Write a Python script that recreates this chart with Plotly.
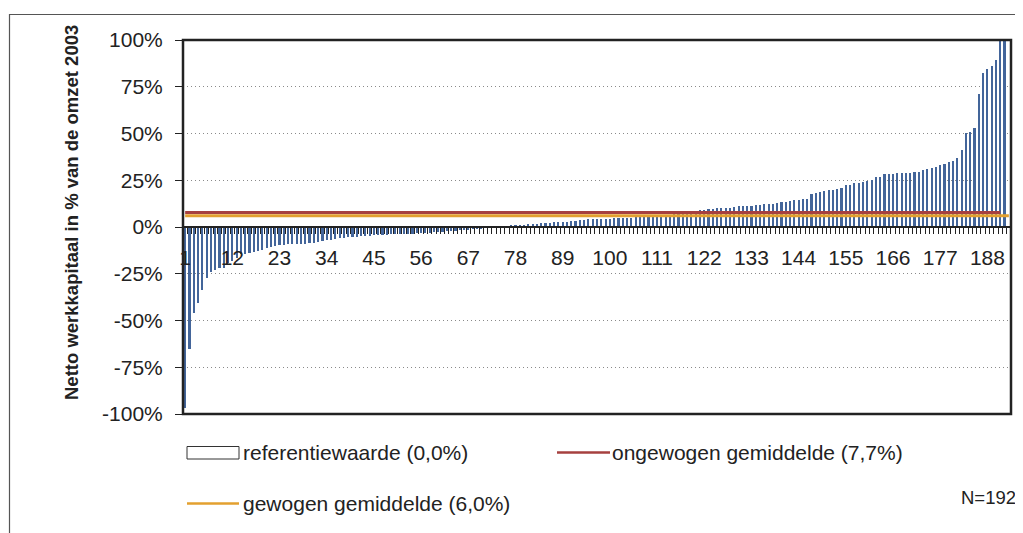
import plotly.graph_objects as go

# companies sorted by net working capital (% of turnover 2003)
companies = list(range(1, 193))
werkkapitaal = [
    -97.0, -65.1, -45.8, -40.5, -33.7, -27.1, -23.9, -22.8, -21.9, -21.7,
    -19.1, -18.2, -16.8, -14.6, -14.6, -13.7, -13.2, -12.8, -12.3, -11.1,
    -10.7, -10.3, -9.8, -9.6, -9.3, -9.3, -8.9, -8.9, -8.9, -8.7,
    -8.5, -8.0, -7.5, -7.1, -6.8, -6.4, -6.0, -5.7, -5.5, -5.3,
    -5.1, -4.9, -4.8, -4.6, -4.5, -4.4, -4.3, -4.1, -4.0, -3.9,
    -3.8, -3.7, -3.6, -3.5, -3.3, -3.2, -3.1, -3.0, -2.9, -2.7,
    -2.6, -2.4, -2.2, -2.0, -1.8, -1.6, -1.5, -1.3, -0.9, -0.7,
    -0.5, -0.4, -0.2, -0.1, 0.5, 0.5, 1.1, 1.1, 1.1, 1.1,
    1.6, 1.6, 1.6, 2.1, 2.1, 2.1, 2.7, 2.7, 2.7, 2.7,
    3.2, 3.2, 3.7, 3.7, 4.3, 4.3, 4.3, 4.3, 4.3, 4.3,
    4.8, 4.8, 4.8, 4.8, 4.8, 5.3, 5.3, 5.3, 5.3, 5.3,
    5.3, 5.5, 5.8, 6.5, 6.8, 7.0, 7.5, 8.6, 8.6, 8.6,
    9.1, 9.1, 9.6, 9.6, 10.2, 10.2, 10.2, 10.2, 10.7, 11.2,
    11.2, 11.2, 11.2, 11.8, 11.8, 12.3, 12.3, 12.3, 12.8, 13.4,
    13.4, 13.9, 14.4, 14.4, 15.0, 15.0, 17.6, 18.2, 18.7, 19.3,
    19.8, 19.8, 20.3, 20.9, 22.5, 22.5, 23.5, 23.5, 24.1, 24.6,
    25.1, 26.7, 26.7, 28.3, 28.3, 28.3, 28.9, 28.9, 28.9, 28.9,
    29.4, 29.4, 30.5, 31.0, 31.6, 32.1, 33.2, 33.7, 34.8, 35.3,
    36.9, 41.2, 50.3, 50.8, 52.9, 71.1, 82.4, 84.5, 86.1, 89.3,
    100.0, 104.3,
]

ongewogen = 7.7
gewogen = 6.0
ongewogen_x = list(range(1, 192))
gewogen_x = list(range(1, 194))

x_tickvals = list(range(1, 193, 11))
x_ticktext = [str(v) for v in x_tickvals]
y_tickvals = [-100, -75, -50, -25, 0, 25, 50, 75, 100]
y_ticktext = [f"{v}%" for v in y_tickvals]

FONT = "Arial, Liberation Sans, sans-serif"
BLUE = "#43659a"
RED = "#a6403f"
ORANGE = "#e3a02f"

# page has an 8px body margin, so screen px = figure px + 8
OFF = 8
L, R, T, B = 183 - OFF, 1011 - OFF, 40 - OFF, 414 - OFF


def px(x):
    return (x - OFF - L) / (R - L)


def py(y):
    return (B - (y - OFF)) / (B - T)


fig = go.Figure()
fig.add_trace(go.Bar(
    x=companies, y=werkkapitaal,
    marker=dict(color=BLUE, line=dict(width=0)),
    width=0.5,
    hoverinfo='x+y'
))
fig.add_trace(go.Scatter(
    x=ongewogen_x, y=[ongewogen] * len(ongewogen_x),
    mode='lines', line=dict(color=RED, width=3), hoverinfo='none'
))
fig.add_trace(go.Scatter(
    x=gewogen_x, y=[gewogen] * len(gewogen_x),
    mode='lines', line=dict(color=ORANGE, width=3), hoverinfo='none'
))

fig.update_layout(
    width=1023, height=533,
    showlegend=False,
    margin=dict(l=L, r=1023 - R, t=T, b=533 - B, pad=0),
    plot_bgcolor='white',
    paper_bgcolor='white',
    font=dict(family=FONT, size=21, color='#222'),
    bargap=0,
    xaxis=dict(
        range=[0.5, 193.5],
        anchor='free', position=0.5,
        tickmode='array', tickvals=x_tickvals, ticktext=x_ticktext,
        ticks='', showgrid=False, zeroline=False,
        showline=True, linecolor='#222', linewidth=2,
        ticklabelstandoff=12,
        minor=dict(tickmode='linear', tick0=0.5, dtick=1, ticks='outside',
                   ticklen=6, tickwidth=1, tickcolor='#222', showgrid=False),
        tickfont=dict(size=21),
    ),
    yaxis=dict(
        range=[-100, 100],
        tickmode='array', tickvals=y_tickvals, ticktext=y_ticktext,
        ticks='outside', ticklen=7, tickwidth=1, tickcolor='#222',
        showgrid=True, gridcolor='#8a8a8a', griddash='1px,3px', gridwidth=1,
        zeroline=False, showline=False,
        ticklabelstandoff=8,
        tickfont=dict(size=21),
    ),
    shapes=[
        # outer chart border
        dict(type='rect', xref='paper', yref='paper',
             x0=px(9.5), x1=px(1040), y0=py(14.5), y1=py(560),
             line=dict(color='#555', width=1.2), layer='below'),
        # plot area frame
        dict(type='rect', xref='paper', yref='paper', x0=0, x1=1, y0=0, y1=1,
             line=dict(color='#222', width=2.5), layer='above'),
        # legend symbols
        dict(type='rect', xref='paper', yref='paper',
             x0=px(187), x1=px(239), y0=py(446.5), y1=py(459),
             line=dict(color='#333', width=1), fillcolor='white'),
        dict(type='line', xref='paper', yref='paper',
             x0=px(557), x1=px(610), y0=py(452.5), y1=py(452.5),
             line=dict(color=RED, width=2.5)),
        dict(type='line', xref='paper', yref='paper',
             x0=px(187), x1=px(239), y0=py(503.5), y1=py(503.5),
             line=dict(color=ORANGE, width=2.5)),
    ],
    annotations=[
        dict(text="<b>Netto werkkapitaal in % van de omzet 2003</b>",
             xref='paper', yref='paper', x=px(72), y=py(212),
             textangle=-90, showarrow=False, font=dict(size=18.5, color='#222'),
             xanchor='center', yanchor='middle'),
        dict(text="referentiewaarde (0,0%)", xref='paper', yref='paper',
             x=px(241), y=py(452), xanchor='left', yanchor='middle',
             showarrow=False, font=dict(size=21)),
        dict(text="ongewogen gemiddelde (7,7%)", xref='paper', yref='paper',
             x=px(610), y=py(452), xanchor='left', yanchor='middle',
             showarrow=False, font=dict(size=21)),
        dict(text="gewogen gemiddelde (6,0%)", xref='paper', yref='paper',
             x=px(241), y=py(503), xanchor='left', yanchor='middle',
             showarrow=False, font=dict(size=21)),
        dict(text="N=192", xref='paper', yref='paper',
             x=px(1018), y=py(497), xanchor='right', yanchor='middle',
             showarrow=False, font=dict(size=18.5)),
    ],
)

fig.write_html("out.html")
